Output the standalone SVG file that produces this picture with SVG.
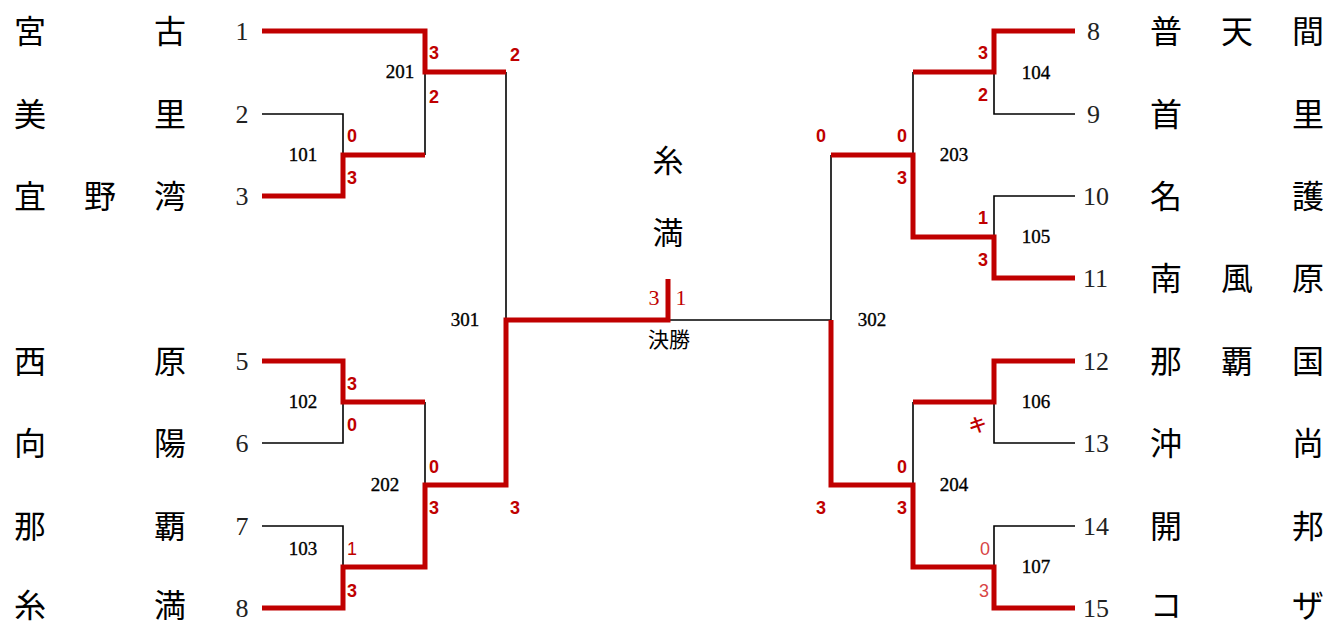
<svg xmlns="http://www.w3.org/2000/svg" width="1331" height="626" viewBox="0 0 1331 626">
<style>
.bg{fill:#ffffff}
.win{fill:none;stroke:#c00000;stroke-width:5;stroke-linejoin:miter}
.los{fill:none;stroke:#000000;stroke-width:1.6}
.name{font-family:"Noto Sans CJK JP","Noto Sans CJK SC",sans-serif;font-size:32px;fill:#000;text-anchor:middle}
.num{font-family:"Liberation Serif","DejaVu Serif",serif;font-size:26px;fill:#222}
.numL{text-anchor:middle}
.mlab{font-family:"Liberation Serif","DejaVu Serif",serif;font-size:19px;fill:#000;stroke:#000;stroke-width:0.35;text-anchor:middle}
.sc{font-family:"Liberation Sans","DejaVu Sans",sans-serif;font-size:18px;font-weight:bold;fill:#c00000;text-anchor:middle}
.scn{font-family:"Liberation Sans","DejaVu Sans",sans-serif;font-size:18px;fill:#c00000;text-anchor:middle}
.scl{font-family:"Liberation Sans","DejaVu Sans",sans-serif;font-size:18px;fill:#d84545;text-anchor:middle}
.fin{font-family:"Liberation Serif","DejaVu Serif",serif;font-size:22px;fill:#c00000;text-anchor:middle}
.cjk{font-family:"Noto Sans CJK JP","Noto Sans CJK SC",sans-serif;fill:#000;text-anchor:middle}
</style>
<rect class="bg" x="0" y="0" width="1331" height="626"/>

<g id="connectors">
  <polyline class="los" points="262,114 343,114 343,155"/>
  <polyline class="los" points="262,443 343,443 343,402"/>
  <polyline class="los" points="262,526 343,526 343,567"/>
  <polyline class="los" points="425,72 425,155"/>
  <polyline class="los" points="425,402 425,485"/>
  <polyline class="los" points="506,72 506,320"/>
  <polyline class="los" points="668,320 831,320"/>
  <polyline class="los" points="1075,114 994,114 994,72"/>
  <polyline class="los" points="1075,196 994,196 994,237"/>
  <polyline class="los" points="1075,443 994,443 994,402"/>
  <polyline class="los" points="1075,526 994,526 994,567"/>
  <polyline class="los" points="913,72 913,155"/>
  <polyline class="los" points="913,402 913,485"/>
  <polyline class="los" points="831,155 831,320"/>
  <polyline class="win" points="262,31 425,31 425,72 506,72"/>
  <polyline class="win" points="262,196 343,196 343,155 425,155"/>
  <polyline class="win" points="262,361 343,361 343,402 425,402"/>
  <polyline class="win" points="262,608 343,608 343,567 425,567 425,485 506,485 506,320 668,320 668,279"/>
  <polyline class="win" points="1075,31 994,31 994,72 913,72"/>
  <polyline class="win" points="1075,278 994,278 994,237 913,237 913,155 831,155"/>
  <polyline class="win" points="1075,361 994,361 994,402 913,402"/>
  <polyline class="win" points="1075,608 994,608 994,567 913,567 913,485 831,485 831,320"/>
</g>

<g id="team-L1"><text class="num numL" x="242" y="40">1</text><text class="name" y="43"><tspan x="30">宮</tspan><tspan x="170">古</tspan></text></g>
<g id="team-L2"><text class="num numL" x="242" y="123">2</text><text class="name" y="126"><tspan x="30">美</tspan><tspan x="170">里</tspan></text></g>
<g id="team-L3"><text class="num numL" x="242" y="205">3</text><text class="name" y="208"><tspan x="30">宜</tspan><tspan x="100">野</tspan><tspan x="170">湾</tspan></text></g>
<g id="team-L5"><text class="num numL" x="242" y="370">5</text><text class="name" y="373"><tspan x="30">西</tspan><tspan x="170">原</tspan></text></g>
<g id="team-L6"><text class="num numL" x="242" y="452">6</text><text class="name" y="455"><tspan x="30">向</tspan><tspan x="170">陽</tspan></text></g>
<g id="team-L7"><text class="num numL" x="242" y="535">7</text><text class="name" y="538"><tspan x="30">那</tspan><tspan x="170">覇</tspan></text></g>
<g id="team-L8"><text class="num numL" x="242" y="617">8</text><text class="name" y="617"><tspan x="30">糸</tspan><tspan x="170">満</tspan></text></g>

<g id="team-R8"><text class="num" x="1087" y="40">8</text><text class="name" y="43"><tspan x="1166">普</tspan><tspan x="1237">天</tspan><tspan x="1308">間</tspan></text></g>
<g id="team-R9"><text class="num" x="1087" y="123">9</text><text class="name" y="126"><tspan x="1166">首</tspan><tspan x="1308">里</tspan></text></g>
<g id="team-R10"><text class="num" x="1083" y="205">10</text><text class="name" y="208"><tspan x="1166">名</tspan><tspan x="1308">護</tspan></text></g>
<g id="team-R11"><text class="num" x="1083" y="287">11</text><text class="name" y="290"><tspan x="1166">南</tspan><tspan x="1237">風</tspan><tspan x="1308">原</tspan></text></g>
<g id="team-R12"><text class="num" x="1083" y="370">12</text><text class="name" y="373"><tspan x="1166">那</tspan><tspan x="1237">覇</tspan><tspan x="1308">国</tspan></text></g>
<g id="team-R13"><text class="num" x="1083" y="452">13</text><text class="name" y="455"><tspan x="1166">沖</tspan><tspan x="1308">尚</tspan></text></g>
<g id="team-R14"><text class="num" x="1083" y="535">14</text><text class="name" y="538"><tspan x="1166">開</tspan><tspan x="1308">邦</tspan></text></g>
<g id="team-R15"><text class="num" x="1083" y="617">15</text><text class="name" y="617"><tspan x="1166">コ</tspan><tspan x="1308">ザ</tspan></text></g>

<g id="match-101"><text class="mlab" x="303" y="161">101</text><text class="sc" x="352" y="142">0</text><text class="sc" x="352" y="184">3</text></g>
<g id="match-102"><text class="mlab" x="303" y="408">102</text><text class="sc" x="352" y="390">3</text><text class="sc" x="352" y="431">0</text></g>
<g id="match-103"><text class="mlab" x="303" y="555">103</text><text class="scn" x="352" y="555">1</text><text class="sc" x="352" y="597">3</text></g>
<g id="match-201"><text class="mlab" x="400" y="78">201</text><text class="sc" x="434" y="59">3</text><text class="sc" x="434" y="103">2</text></g>
<g id="match-202"><text class="mlab" x="385" y="491">202</text><text class="sc" x="434" y="473">0</text><text class="sc" x="434" y="514">3</text></g>
<g id="match-301"><text class="mlab" x="465" y="326">301</text><text class="sc" x="515" y="61">2</text><text class="sc" x="515" y="514">3</text></g>

<g id="match-104"><text class="mlab" x="1036" y="79">104</text><text class="sc" x="983" y="59">3</text><text class="sc" x="983" y="101">2</text></g>
<g id="match-105"><text class="mlab" x="1036" y="243">105</text><text class="sc" x="983" y="224">1</text><text class="sc" x="983" y="266">3</text></g>
<g id="match-106"><text class="mlab" x="1036" y="408">106</text><text class="sc" x="978" y="430" font-size="17" transform="rotate(-12 978 424)">キ</text></g>
<g id="match-107"><text class="mlab" x="1036" y="573">107</text><text class="scl" x="985" y="555">0</text><text class="scl" x="984" y="597">3</text></g>
<g id="match-203"><text class="mlab" x="954" y="161">203</text><text class="sc" x="902" y="142">0</text><text class="sc" x="902" y="184">3</text></g>
<g id="match-204"><text class="mlab" x="954" y="491">204</text><text class="sc" x="902" y="473">0</text><text class="sc" x="902" y="514">3</text></g>
<g id="match-302"><text class="mlab" x="872" y="326">302</text><text class="sc" x="821" y="142">0</text><text class="sc" x="821" y="514">3</text></g>

<g id="final">
  <text class="fin" x="654" y="305">3</text>
  <text class="fin" x="681" y="305">1</text>
  <text class="cjk" x="669" y="347" font-size="21">決勝</text>
</g>
<g id="champion">
  <text class="cjk" x="668" y="172" font-size="31">糸</text>
  <text class="cjk" x="668" y="244" font-size="31">満</text>
</g>
</svg>
